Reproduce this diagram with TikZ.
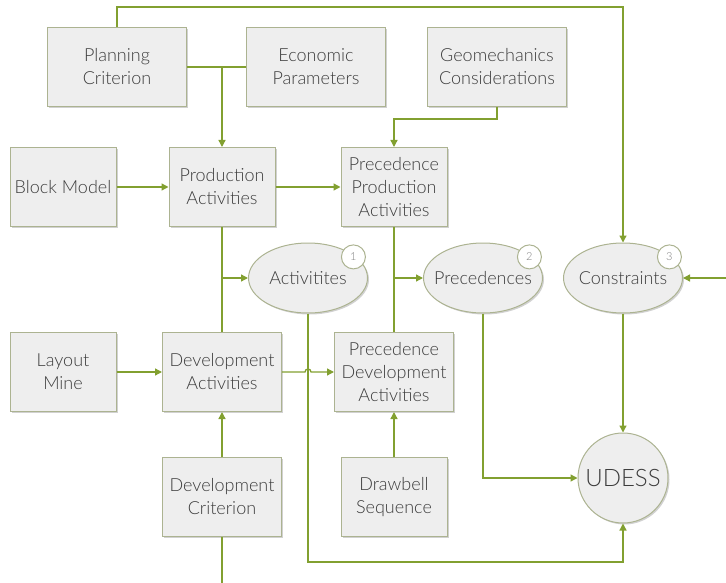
\documentclass[tikz,border=0pt]{standalone}
\usepackage{fontspec}
\setmainfont{Lato}[UprightFont=* Light]
\usetikzlibrary{arrows.meta,shapes.geometric,shadows}

\definecolor{boxfill}{HTML}{EEEEEE}
\definecolor{boxline}{HTML}{ACB391}
\definecolor{flowgreen}{HTML}{82A030}
\definecolor{txtgray}{HTML}{3C3C3C}

\tikzset{
    base/.style={draw=boxline, fill=boxfill, line width=1pt, text=txtgray,
        align=center, font=\fontsize{18}{23}\selectfont,
        drop shadow={shadow xshift=1.5pt, shadow yshift=-1.5pt, fill=black, opacity=0.18}},
    block/.style={base, rectangle, minimum height=79pt, inner sep=2pt},
    narrow/.style={block, minimum width=106pt},
    medium/.style={block, minimum width=119pt},
    wide/.style={block, minimum width=139pt},
    data/.style={base, ellipse, minimum width=119pt, minimum height=70pt,
        inner xsep=-10pt, inner ysep=0pt},
    core/.style={base, circle, minimum size=90pt, inner sep=0pt, font=\fontsize{24}{28}\selectfont},
    badge/.style={circle, draw=boxline, fill=white, line width=1pt, minimum size=24pt,
        inner sep=0pt, text=gray, font=\fontsize{11}{12}\selectfont},
    link/.style={draw=flowgreen, line width=1.3pt},
    flow/.style={link, -{Triangle[length=7pt, width=7pt]}}
    }

\begin{document}
\begin{tikzpicture}[x=1pt, y=-1pt]
                \useasboundingbox (0,0) rectangle (726,583);
                % The Inputs
                \node(plan)[wide] at (117,67) {Planning\\Criterion};
                \node(eco)[wide] at (316,67) {Economic\\Parameters};
                \node(geo)[wide] at (497,67) {Geomechanics\\Considerations};
                \node(blk)[narrow] at (63,187) {Block Model};
                \node(prod)[narrow] at (222,187) {Production\\Activities};
                \node(pprod)[narrow] at (394,187) {Precedence\\Production\\Activities};
                \node(lay)[narrow] at (63,372) {Layout\\Mine};
                \node(dev)[medium] at (222,372) {Development\\Activities};
                \node(pdev)[medium] at (394,372) {Precedence\\Development\\Activities};
                \node(dcrit)[medium] at (222,497) {Development\\Criterion};
                \node(drw)[narrow] at (394,497) {Drawbell\\Sequence};
                % The Sets
                \node(act)[data] at (308,278) {Activitites};
                \node(prec)[data] at (483,278) {Precedences};
                \node(con)[data] at (623,278) {Constraints};
                \node[badge] at ([xshift=3pt, yshift=-4pt]act.north east) {1};
                \node[badge] at ([xshift=4pt, yshift=-4pt]prec.north east) {2};
                \node[badge] at ([xshift=4pt, yshift=-4pt]con.north east) {3};
                \node(udess)[core] at (623,478) {UDESS};
                % The Links
                \coordinate (top) at (623,7);
                \coordinate (join) at (222,67);
                \coordinate (rin) at (726,278);
                \coordinate (bot) at (623,562);
                \coordinate (dend) at (222,583);
                \draw[flow] (plan.north) |- (top) -- (con.north);
                \draw[link] (plan.east) -- (eco.west);
                \draw[flow] (join) -- (prod.north);
                \draw[flow] (geo.south) -- ++(0,12) -| (pprod.north);
                \draw[flow] (blk.east) -- (prod.west);
                \draw[flow] (prod.east) -- (pprod.west);
                \draw[link] (prod.south) -- (dev.north);
                \draw[flow] (prod.south |- act.west) -- (act.west);
                \draw[link] (pprod.south) -- (pdev.north);
                \draw[flow] (pprod.south |- prec.west) -- (prec.west);
                \draw[flow] (lay.east) -- (dev.west);
                \draw[flow] (dev.east) -- ([xshift=-3pt]act.south |- dev.east)
                    arc (180:360:3) -- (pdev.west);
                \draw[flow] (dcrit.north) -- (dev.south);
                \draw[link] (dcrit.south) -- (dend);
                \draw[flow] (drw.north) -- (pdev.south);
                \draw[flow] (act.south) |- (bot) -- (udess.south);
                \draw[flow] (prec.south) |- (udess.west);
                \draw[flow] (con.south) -- (udess.north);
                \draw[flow] (rin) -- (con.east);
            \end{tikzpicture}
\end{document}
